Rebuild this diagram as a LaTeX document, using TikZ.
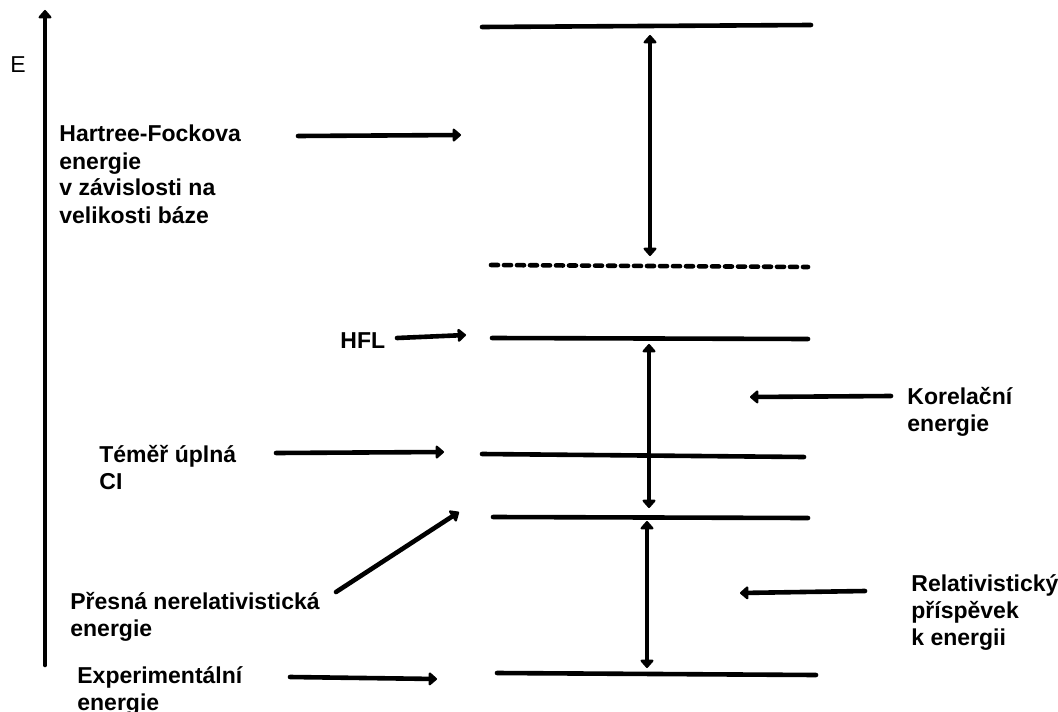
\documentclass[tikz,border=0pt]{standalone}
\usepackage{fontspec}
\setmainfont{Liberation Sans}
\usetikzlibrary{arrows.meta}
\tikzset{lbl/.style={font=\fontsize{11.5}{13.5}\selectfont\bfseries, align=left, anchor=base west, inner sep=0pt},
    lvl/.style={line width=2.3pt, line cap=round},
    ptr/.style={line width=2.3pt, line cap=round, -{Triangle[round,length=4.5pt,width=7.5pt]}},
    gap/.style={line width=2.3pt, {Triangle[round,length=4.5pt,width=7.5pt]}-{Triangle[round,length=4.5pt,width=7.5pt]}},}

\begin{document}
\begin{tikzpicture}[x=0.5pt, y=-0.5pt]
  \useasboundingbox (0,0) rectangle (1058,711);
  % labels (base = last line)
  \node[font=\fontsize{11.5}{13.5}\selectfont, anchor=base west, inner sep=0pt] (E) at (10,73) {E};
  \node[lbl] (hf) at (59,223) {Hartree-Fockova\\energie\\v závislosti na\\velikosti báze};
  \node[lbl] (hfl) at (340,348) {HFL};
  \node[lbl] (ci) at (99,489) {Téměř úplná\\CI};
  \node[lbl] (nrel) at (70,636) {Přesná nerelativistická\\energie};
  \node[lbl] (exp) at (77,710) {Experimentální\\energie};
  \node[lbl] (kor) at (907,431) {Korelační\\energie};
  \node[lbl] (rel) at (911,645) {Relativistický\\příspěvek\\k energii};
  % axis
  \coordinate (a0) at (45,665);
  \coordinate (a1) at (45,10);
  \draw[ptr] (a0)--(a1);
  % levels
  \coordinate (l1a) at (482,27);  \coordinate (l1b) at (811,25);
  \coordinate (l2a) at (491,265); \coordinate (l2b) at (808,267);
  \coordinate (l3a) at (492,338); \coordinate (l3b) at (808,339);
  \coordinate (l4a) at (482,454); \coordinate (l4b) at (804,457);
  \coordinate (l5a) at (493,517); \coordinate (l5b) at (808,518);
  \coordinate (l6a) at (497,673); \coordinate (l6b) at (816,675);
  \draw[lvl] (l1a)--(l1b);
  \draw[lvl, dash pattern=on 3.5pt off 3pt] (l2a)--(l2b);
  \draw[lvl] (l3a)--(l3b);
  \draw[lvl] (l4a)--(l4b);
  \draw[lvl] (l5a)--(l5b);
  \draw[lvl] (l6a)--(l6b);
  % differences
  \coordinate (d1a) at (650,35);  \coordinate (d1b) at (650,256);
  \coordinate (d2a) at (649,344); \coordinate (d2b) at (649,508);
  \coordinate (d3a) at (647,521); \coordinate (d3b) at (647,668);
  \draw[gap] (d1a)--(d1b);
  \draw[gap] (d2a)--(d2b);
  \draw[gap] (d3a)--(d3b);
  % pointers
  \coordinate (p1a) at (298,136); \coordinate (p1b) at (461,135);
  \coordinate (p2a) at (397,338); \coordinate (p2b) at (466,335);
  \coordinate (p3a) at (276,453); \coordinate (p3b) at (444,452);
  \coordinate (p4a) at (336,592); \coordinate (p4b) at (459,512);
  \coordinate (p5a) at (290,677); \coordinate (p5b) at (437,679);
  \coordinate (p6a) at (891,396); \coordinate (p6b) at (750,397);
  \coordinate (p7a) at (865,591); \coordinate (p7b) at (740,593);
  \draw[ptr] (p1a)--(p1b);
  \draw[ptr] (p2a)--(p2b);
  \draw[ptr] (p3a)--(p3b);
  \draw[ptr] (p4a)--(p4b);
  \draw[ptr] (p5a)--(p5b);
  \draw[ptr] (p6a)--(p6b);
  \draw[ptr] (p7a)--(p7b);
\end{tikzpicture}
\end{document}
